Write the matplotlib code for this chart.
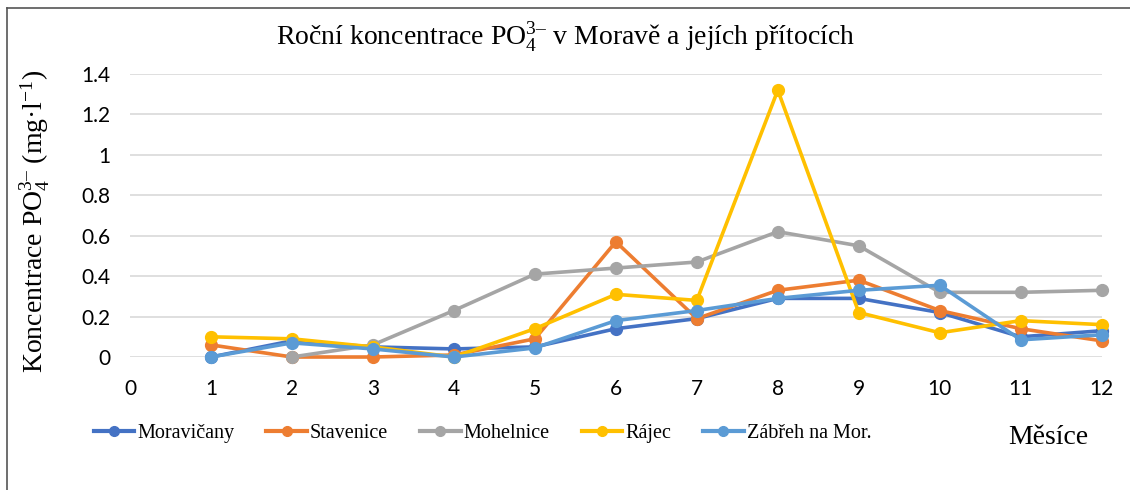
import matplotlib
matplotlib.use("Agg")
import matplotlib.pyplot as plt
from matplotlib.lines import Line2D
import numpy as np

plt.rcParams["mathtext.fontset"] = "custom"
plt.rcParams["mathtext.rm"] = "Liberation Serif"
plt.rcParams["mathtext.it"] = "Liberation Serif:italic"

months = [1, 2, 3, 4, 5, 6, 7, 8, 9, 10, 11, 12]

moravicany = [0.00, 0.08, 0.05, 0.04, 0.05, 0.14, 0.19, 0.29, 0.29, 0.22, 0.10, 0.13]
stavenice = [0.06, 0.00, 0.00, 0.01, 0.09, 0.57, 0.19, 0.33, 0.38, 0.23, 0.14, 0.08]
mohelnice = [np.nan, 0.00, 0.06, 0.23, 0.41, 0.44, 0.47, 0.62, 0.55, 0.32, 0.32, 0.33]
rajec = [0.10, 0.09, 0.05, 0.00, 0.14, 0.31, 0.28, 1.32, 0.22, 0.12, 0.18, 0.16]
zabreh = [0.00, 0.07, 0.04, 0.00, 0.045, 0.18, 0.23, 0.29, 0.33, 0.355, 0.085, 0.11]

series = [
    ("Moravičany", moravicany, "#4472C4"),
    ("Stavenice", stavenice, "#ED7D31"),
    ("Mohelnice", mohelnice, "#A5A5A5"),
    ("Rájec", rajec, "#FFC000"),
    ("Zábřeh na Mor.", zabreh, "#5B9BD5"),
]

serif = "Liberation Serif"
tickfont = "Lato"

fig = plt.figure(figsize=(11.3, 4.9), dpi=100)
ax = fig.add_axes([0.115, 0.2714, 0.86, 0.5776])

for name, vals, col in series:
    ax.plot(months, vals, color=col, lw=2.6, marker="o", ms=8.5,
            label=name, solid_capstyle="round", zorder=3)

ax.set_xlim(0, 12)
ax.set_ylim(0, 1.4)
ax.set_xticks(range(0, 13))
ax.set_yticks(np.arange(0, 1.41, 0.2))
ax.set_yticklabels(["0", "0.2", "0.4", "0.6", "0.8", "1", "1.2", "1.4"])
ax.tick_params(length=0, labelsize=15, pad=14)
ax.tick_params(axis="x", pad=16)
for lab in ax.get_xticklabels() + ax.get_yticklabels():
    lab.set_fontfamily(tickfont)
ax.grid(axis="y", color="#d9d9d9", lw=1.2, zorder=0)
for s in ax.spines.values():
    s.set_visible(False)
for ln in ax.lines:
    ln.set_clip_on(False)

ion = "$\\mathregular{_4^{3\u2013}}$"
fig.text(0.5, 0.923, "Roční koncentrace PO" + ion + " v Moravě a jejích přítocích",
         ha="center", va="center", fontsize=20, family=serif)
fig.text(0.031, 0.548, "Koncentrace PO" + ion + " (mg·l$\\mathregular{^{-1}}$)",
         ha="center", va="center", rotation=90, fontsize=20, family=serif)
fig.text(0.928, 0.108, "Měsíce", ha="center", va="center", fontsize=20, family=serif)

handles = [Line2D([], [], color=c, lw=3, marker="o", ms=7) for _, _, c in series]
fig.legend(handles, [n for n, _, _ in series], loc="center", bbox_to_anchor=(0.427, 0.115),
           ncol=5, frameon=False, prop={"family": serif, "size": 14.5},
           handlelength=2.0, handletextpad=0.15, columnspacing=1.6)

# frame of the chart area (left and top edges visible)
fig.add_artist(Line2D([7 / 1130, 7 / 1130], [0, 1 - 8 / 490], color="#555555", lw=1.2))
fig.add_artist(Line2D([7 / 1130, 1], [1 - 8 / 490, 1 - 8 / 490], color="#555555", lw=1.2))

fig.savefig("out.png", dpi=100)
